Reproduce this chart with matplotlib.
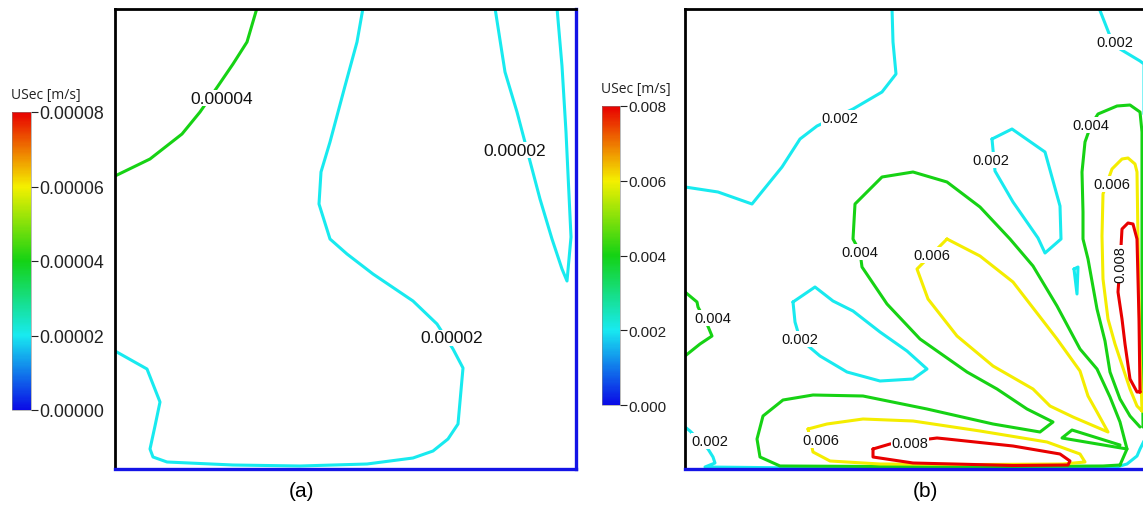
import matplotlib
matplotlib.use("Agg")
import matplotlib.pyplot as plt
from matplotlib.colors import LinearSegmentedColormap, Normalize
from matplotlib.cm import ScalarMappable

W, H = 1143, 506
FONT = ["Liberation Sans", "DejaVu Sans"]

# ---------------------------------------------------------------- scales
levels_a = [0.0, 0.00002, 0.00004, 0.00006, 0.00008]
ticks_a = ["0.00000", "0.00002", "0.00004", "0.00006", "0.00008"]
levels_b = [0.0, 0.002, 0.004, 0.006, 0.008]
ticks_b = ["0.000", "0.002", "0.004", "0.006", "0.008"]
cbar_title = "USec [m/s]"

# cavity cross-section, position units (x to the right, y upward)
domain_w, domain_h = 461, 460

# ---------------------------------------------------------------- case (a) isolines
a_u04 = [(142, 461), (132, 427), (118, 405), (103, 383), (85, 357), (67, 335),
         (35, 310), (0, 293)]
a_u02_main = [(248, 461), (242, 427), (230, 383), (215, 327), (206, 297), (204, 265),
              (215, 230), (232, 215), (258, 195), (298, 168), (322, 145), (338, 120),
              (348, 101), (343, 45), (333, 30), (318, 18), (298, 11), (252, 5),
              (185, 3), (118, 4), (52, 7), (38, 12), (35, 20), (40, 43), (45, 67),
              (32, 100), (0, 118)]
a_u02_wall = [(380, 461), (390, 397), (402, 357), (425, 270), (437, 230), (447, 200),
              (452, 188), (454, 210), (456, 232), (451, 337), (447, 403), (442, 461)]
a_labels = [(0.00004, 107, 371), (0.00002, 337, 131), (0.00002, 400, 319)]

# ---------------------------------------------------------------- case (b) isolines
b_u2_topleft = [(207, 461), (208, 427), (211, 395), (197, 377), (168, 360), (132, 343),
                (115, 330), (97, 302), (67, 265), (33, 277), (0, 282)]
b_u2_mid = [(307, 330), (327, 340), (360, 317), (375, 263), (376, 230), (360, 216),
            (353, 231), (328, 267), (310, 298), (307, 330)]
b_u2_topright = [(414, 461), (425, 433), (435, 420), (455, 408), (459, 405),
                 (459, 355), (462, 350)]
b_u2_loop = [(108, 167), (130, 182), (148, 168), (168, 158), (195, 137), (222, 118),
             (242, 100), (228, 90), (195, 88), (162, 97), (135, 113), (115, 130),
             (110, 147), (108, 167)]
b_u2_bottom = [(0, 42), (5, 38), (23, 20), (28, 12), (30, 6), (20, 2), (100, 1.2),
               (430, 1.5), (442, 5), (452, 13), (455, 20), (460, 30)]
b_u2_sliver = [(389, 200), (393, 202), (392, 175), (389, 200)]

b_u4_main = [(435, 4), (442, 20), (435, 47), (425, 72), (412, 100), (395, 120),
             (372, 163), (348, 203), (325, 230), (295, 262), (262, 287), (228, 297),
             (197, 292), (170, 265), (168, 230), (175, 217), (177, 202), (202, 165),
             (235, 130), (282, 97), (312, 80), (342, 60), (368, 47), (355, 37),
             (308, 45), (242, 60), (178, 73), (128, 74), (98, 69), (78, 53), (72, 30),
             (75, 12), (95, 3), (195, 2.5), (315, 2.5), (418, 3), (435, 4)]
b_u4_notch = [(435, 24), (387, 39), (377, 31), (442, 20)]
b_u4_right = [(455, 42), (445, 53), (435, 70), (425, 97), (420, 128), (412, 160),
              (403, 210), (398, 230), (398, 257), (397, 297), (400, 327), (406, 344),
              (413, 355), (432, 363), (445, 364), (455, 357), (457, 337), (457, 200),
              (458, 42)]
b_u4_left = [(0, 177), (12, 167), (13, 162), (22, 145), (27, 133), (15, 125), (0, 113)]

b_u6_right = [(457, 58), (452, 63), (445, 80), (430, 125), (423, 150), (418, 190),
              (417, 233), (418, 275), (427, 300), (437, 310), (443, 311), (450, 305),
              (452, 297), (453, 230), (455, 120), (457, 58)]
b_u6_diag = [(262, 230), (232, 200), (243, 170), (272, 133), (308, 103), (348, 80),
             (365, 63), (388, 52), (423, 37), (412, 57), (403, 73), (395, 98),
             (372, 130), (362, 143), (328, 187), (295, 213), (262, 230)]
b_u6_bottom = [(123, 40), (128, 17), (145, 8), (195, 5), (295, 4.5), (378, 5),
               (400, 7), (395, 15), (362, 27), (295, 38), (228, 48), (178, 50),
               (142, 45), (123, 40)]

b_u8_right = [(455, 77), (452, 77), (445, 90), (440, 125), (437, 150), (433, 177),
              (435, 205), (437, 240), (443, 246), (448, 245), (452, 230), (454, 150),
              (455, 77)]
b_u8_bottom = [(188, 20), (188, 12), (228, 6), (328, 3.5), (383, 4), (385, 8),
               (375, 15), (328, 23), (262, 30), (252, 31), (205, 25), (188, 20)]

b_labels = [(0.002, 155, 351, 0), (0.002, 306, 309, 0), (0.002, 430, 427, 0),
            (0.004, 406, 344, 0), (0.006, 427, 285, 0), (0.008, 435, 205, 90),
            (0.004, 175, 217, 0), (0.006, 247, 214, 0), (0.004, 28, 151, 0),
            (0.002, 115, 130, 0), (0.002, 25, 28, 0), (0.006, 136, 29, 0),
            (0.008, 225, 26, 0)]

lines_a = [(0.00004, a_u04), (0.00002, a_u02_main), (0.00002, a_u02_wall)]
lines_b = [(0.002, b_u2_topleft), (0.002, b_u2_mid), (0.002, b_u2_topright),
           (0.002, b_u2_loop), (0.002, b_u2_bottom), (0.002, b_u2_sliver),
           (0.004, b_u4_main), (0.004, b_u4_notch), (0.004, b_u4_right),
           (0.004, b_u4_left),
           (0.006, b_u6_right), (0.006, b_u6_diag), (0.006, b_u6_bottom),
           (0.008, b_u8_right), (0.008, b_u8_bottom)]

# ---------------------------------------------------------------- colour map
cmap = LinearSegmentedColormap.from_list(
    "usec", [(0.0, "#0a0ae6"), (0.25, "#18eaf0"), (0.5, "#14d214"),
             (0.75, "#f4f000"), (1.0, "#e80000")])

fig = plt.figure(figsize=(W / 100, H / 100), dpi=100)


def px_rect(x0, y0, x1, y1):
    return [x0 / W, 1 - y1 / H, (x1 - x0) / W, (y1 - y0) / H]


def panel(rect, lines, labels, levels, fmt, fsize):
    ax = fig.add_axes(rect)
    norm = Normalize(levels[0], levels[-1])
    for lev, pts in lines:
        xs = [p[0] for p in pts]
        ys = [p[1] for p in pts]
        ax.plot(xs, ys, color=cmap(norm(lev)), lw=2.2, solid_joinstyle="round",
                solid_capstyle="round", zorder=2)
    for item in labels:
        lev, x, y = item[:3]
        rot = item[3] if len(item) > 3 else 0
        ax.text(x, y, fmt.format(lev), ha="center", va="center", rotation=rot,
                fontsize=fsize, family=FONT, color="#111111", zorder=3,
                bbox=dict(facecolor="white", edgecolor="none", pad=0.6))
    ax.set_xlim(0, domain_w)
    ax.set_ylim(0, domain_h)
    ax.set_xticks([])
    ax.set_yticks([])
    for side in ("left", "top"):
        ax.spines[side].set_color("black")
        ax.spines[side].set_linewidth(2.0)
    for side in ("right", "bottom"):
        ax.spines[side].set_color("#1414e6")
        ax.spines[side].set_linewidth(2.4)
    return ax


def colorbar(rect, levels, labels, fsize, title_xy):
    cax = fig.add_axes(rect)
    sm = ScalarMappable(norm=Normalize(levels[0], levels[-1]), cmap=cmap)
    cb = fig.colorbar(sm, cax=cax, ticks=levels)
    cb.ax.set_yticklabels(labels, family=FONT, fontsize=fsize, color="#222222")
    cb.ax.tick_params(length=5, width=0.8, pad=1.2, colors="#222222")
    cb.outline.set_linewidth(0.4)
    cb.outline.set_edgecolor("#888888")
    fig.text(title_xy[0] / W, 1 - title_xy[1] / H, cbar_title, fontsize=10,
             family=["Open Sans", "DejaVu Sans"], ha="left", va="center",
             color="#222222")


# case (a)
panel(px_rect(115, 10, 576, 470), lines_a, a_labels, levels_a, "{:.5f}", 12.5)
colorbar(px_rect(12, 113, 31, 411), levels_a, ticks_a, 12.8, (11, 96))
fig.text(301 / W, 1 - 492 / H, "(a)", fontsize=15, family=FONT, ha="center",
         va="center")

# case (b)
panel(px_rect(685, 10, 1146, 470), lines_b, b_labels, levels_b, "{:.3f}", 10.5)
colorbar(px_rect(602, 107, 620, 406), levels_b, ticks_b, 11, (601, 89))
fig.text(925 / W, 1 - 492 / H, "(b)", fontsize=15, family=FONT, ha="center",
         va="center")

fig.savefig("out.png", dpi=100)
